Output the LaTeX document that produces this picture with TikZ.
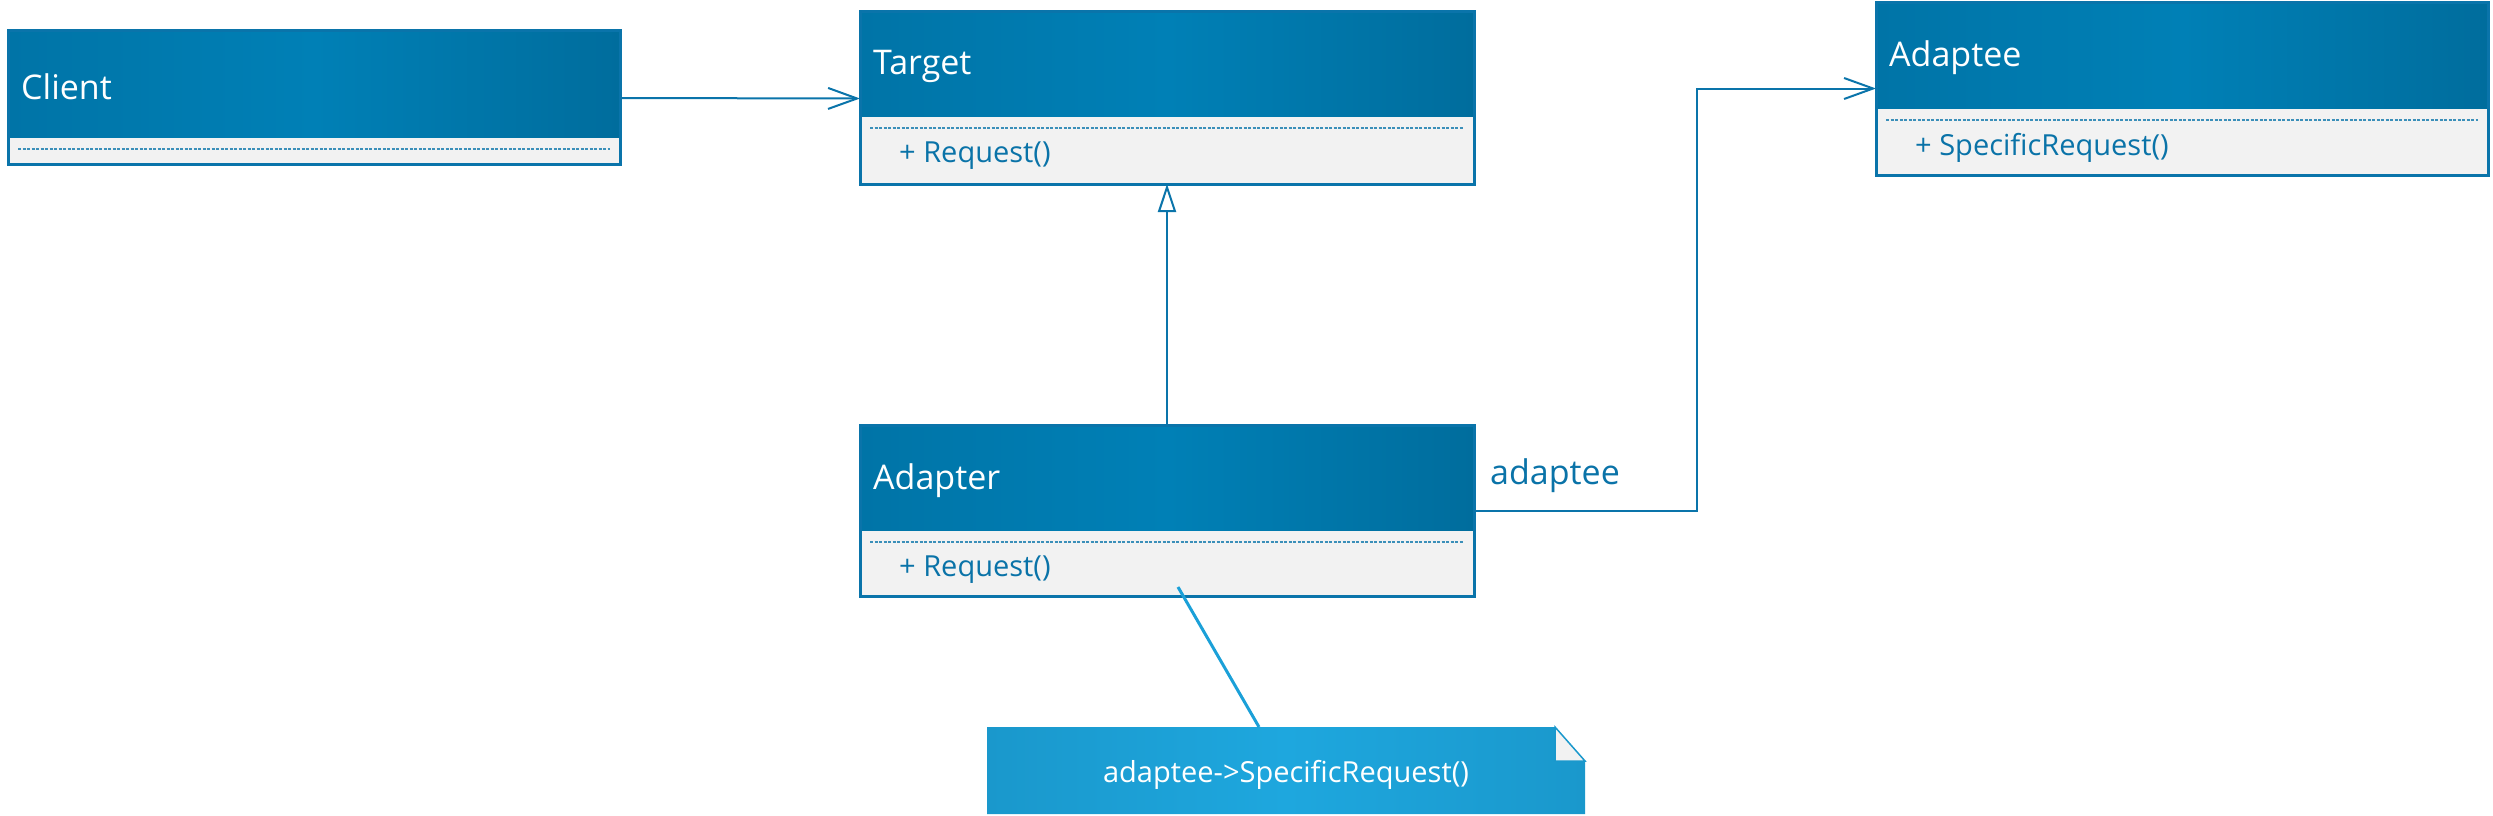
\documentclass[tikz,border=0pt]{standalone}
\usepackage{fontspec}
\setmainfont{Open Sans}
\usetikzlibrary{arrows.meta,calc}
\definecolor{hdark}{HTML}{0074A7}
\definecolor{hdarkr}{HTML}{006D9D}
\definecolor{hlight}{HTML}{0080B6}
\definecolor{bord}{HTML}{0A74AA}
\definecolor{bodyg}{HTML}{F2F2F2}
\definecolor{memb}{HTML}{0A73A8}
\definecolor{notel}{HTML}{1EA7DE}
\definecolor{noted}{HTML}{1A98CC}
\definecolor{linkc}{HTML}{1BA0D8}
\newcommand{\UmlClass}[8]{%
  \node[clsbox, minimum width=#4pt, minimum height=#5pt] (#1) at (#2,#3) {};
  \shade[left color=hdark, right color=hdarkr, middle color=hlight]
    (#1.north west) rectangle ($(#1.north east)+(0,#6)$);
  \draw[sepline] ($(#1.north west)+(10,#6+12)$) -- ($(#1.north east)+(-10,#6+12)$);
  \node[titletext] (#1-t) at ($(#1.north west)+(13,#6/2+3)$) {#7};
  \node[membertext] (#1-m) at ($(#1.north west)+(39,#6+40)$) {#8};
  \draw[bord, line width=3pt] (#1.north west) rectangle (#1.south east);
}
\begin{document}
\begin{tikzpicture}[x=1pt,y=-1pt,
  clsbox/.style={rectangle, fill=bodyg, inner sep=0pt, outer sep=0pt},
  titletext/.style={anchor=west, text=white, inner sep=0pt, font=\fontsize{34}{40}\selectfont},
  membertext/.style={anchor=west, text=memb, inner sep=0pt, font=\fontsize{29}{34}\selectfont},
  sepline/.style={draw=memb!80, line width=1.3pt, dash pattern=on 3pt off 1.5pt},
  conn/.style={draw=bord, line width=2pt},
  opentip/.style={-{Straight Barb[length=29pt,width=21pt]}},
  gentip/.style={-{Triangle[fill=white,length=28pt,width=18pt]}},
  linktext/.style={text=memb, font=\fontsize{34}{40}\selectfont, inner sep=0pt, anchor=west}
]
\useasboundingbox (0,0) rectangle (2493,815);

\UmlClass{client}{314}{97}{612}{134}{107}{Client}{}
\UmlClass{target}{1167}{97.5}{614}{173}{105}{Target}{+ Request()}
\UmlClass{adaptee}{2182}{88.5}{612}{173}{106}{Adaptee}{+ SpecificRequest()}
\UmlClass{adapter}{1167}{510.5}{614}{171}{105}{Adapter}{+ Request()}

% connectors
\draw[conn, opentip] ($(client.east)+(0,1)$) -- ($(target.west)+(0,1)$);
\draw[conn, gentip] (adapter.north) -- (target.south);
\draw[conn, opentip] (adapter.east) -- ++(223,0) |- (adaptee.west);
\node[linktext] (lbl) at ($(adapter.east)+(16,-35)$) {adaptee};

% note
\node[rectangle, inner sep=0pt, outer sep=0pt, minimum width=598pt, minimum height=87pt] (note) at (1286,770.5) {};
\shade[left color=noted, right color=noted, middle color=notel]
  (note.north west) -- ($(note.north east)+(-30,0)$) -- ($(note.north east)+(0,34)$)
  -- (note.south east) -- (note.south west) -- cycle;
\filldraw[fill=bodyg, draw=noted, line width=1.5pt]
  ($(note.north east)+(-30,0)$) -- ($(note.north east)+(-30,34)$) -- ($(note.north east)+(0,34)$) -- cycle;
\node[text=white, font=\fontsize{29}{34}\selectfont, inner sep=0pt] (note-t) at ($(note.center)+(0,4)$) {adaptee->SpecificRequest()};
\coordinate (lk) at ($(adapter.south)+(11,-9)$);
\draw[linkc, line width=3pt] (lk) -- ($(note.north)+(-27,0)$);
\end{tikzpicture}
\end{document}
